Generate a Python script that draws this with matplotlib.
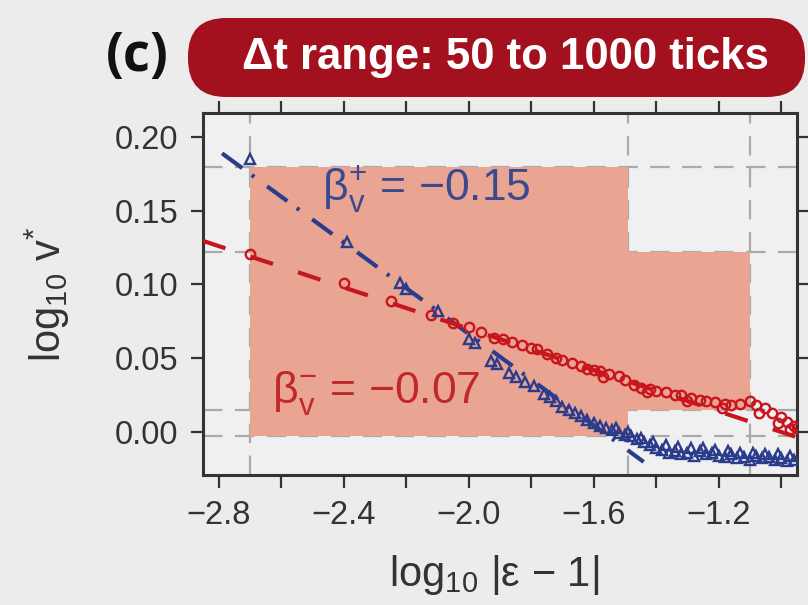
import matplotlib
matplotlib.use("Agg")
import matplotlib.pyplot as plt
from matplotlib.patches import FancyBboxPatch, Rectangle
from matplotlib.transforms import IdentityTransform

plt.rcParams['font.family'] = ['Liberation Sans', 'DejaVu Sans']
plt.rcParams['mathtext.fontset'] = 'custom'
plt.rcParams['mathtext.rm'] = 'Liberation Sans'
plt.rcParams['mathtext.it'] = 'Liberation Sans:italic'
plt.rcParams['lines.scale_dashes'] = False

# ---- data ----
blue_x = [-2.70, -2.39, -2.22, -2.20, -2.10, -2.00, -1.98, -1.93, -1.91, -1.87,
          -1.85, -1.82, -1.79, -1.76, -1.74, -1.72, -1.70, -1.68, -1.66, -1.64,
          -1.62, -1.60, -1.58, -1.56, -1.54, -1.52, -1.50, -1.48, -1.46, -1.44,
          -1.42, -1.40, -1.38, -1.36, -1.34, -1.32, -1.30, -1.28, -1.26, -1.24,
          -1.22, -1.20, -1.18, -1.16, -1.14, -1.12, -1.10, -1.08, -1.06, -1.04,
          -1.02, -1.00, -0.98, -0.96,
          -1.53, -1.49, -1.45, -1.41, -1.37, -1.33, -1.29, -1.25, -1.21, -1.17,
          -1.13, -1.09, -1.05, -1.01, -0.97]
blue_y = [0.185, 0.129, 0.101, 0.097, 0.082, 0.063, 0.060, 0.048, 0.046, 0.040,
          0.037, 0.034, 0.031, 0.026, 0.024, 0.021, 0.017, 0.015, 0.013, 0.011,
          0.008, 0.006, 0.004, 0.003, 0.001, -0.001, -0.002, -0.003, -0.005, -0.007,
          -0.009, -0.011, -0.012, -0.014, -0.013, -0.015, -0.014, -0.016, -0.013, -0.015,
          -0.014, -0.016, -0.017, -0.015, -0.018, -0.017, -0.019, -0.016, -0.018, -0.017,
          -0.019, -0.018, -0.020, -0.019,
          0.003, -0.000, -0.004, -0.007, -0.009, -0.010, -0.011, -0.011, -0.012, -0.013,
          -0.014, -0.014, -0.015, -0.015, -0.016]

red_x = [-2.70, -2.40, -2.25, -2.12, -2.05, -2.00, -1.96, -1.92, -1.89, -1.86,
         -1.83, -1.80, -1.78, -1.75, -1.72, -1.70, -1.67, -1.64, -1.62, -1.60,
         -1.58, -1.55, -1.52, -1.50, -1.47, -1.45, -1.42, -1.40, -1.37, -1.34,
         -1.32, -1.29, -1.26, -1.24, -1.21, -1.18, -1.16, -1.13, -1.10, -1.08,
         -1.05, -1.03, -1.00, -0.98, -0.96, -0.95,
         -1.57, -1.43, -1.30, -1.19, -1.07, -1.01, -0.97]
red_y = [0.121, 0.101, 0.089, 0.079, 0.074, 0.071, 0.068, 0.064, 0.063, 0.061,
         0.059, 0.057, 0.056, 0.053, 0.050, 0.049, 0.047, 0.045, 0.043, 0.042,
         0.041, 0.039, 0.038, 0.035, 0.032, 0.030, 0.029, 0.028, 0.027, 0.025,
         0.025, 0.023, 0.022, 0.021, 0.020, 0.019, 0.018, 0.019, 0.021, 0.018,
         0.016, 0.013, 0.010, 0.007, 0.004, 0.003,
         0.037, 0.027, 0.021, 0.016, 0.013, 0.006, 0.002]

# fitted power-law lines (slope, intercept, x-range)
blue_fit = (-0.155, -0.2435, -2.79, -1.44)
red_fit = (-0.07, -0.07, -2.851, -0.95)

# fit windows (x0, x1, y0, y1)
boxes = [(-2.70, -1.49, -0.003, 0.18), (-1.49, -1.10, 0.015, 0.122)]
vlines = [-2.70, -1.49, -1.10]
hlines = [0.18, 0.122, 0.015, -0.003]

xticks = [-2.8, -2.6, -2.4, -2.2, -2.0, -1.8, -1.6, -1.4, -1.2, -1.0]
xticklabels = ['\u22122.8', '', '\u22122.4', '', '\u22122.0', '', '\u22121.6', '', '\u22121.2', '']
yticks = [0.00, 0.05, 0.10, 0.15, 0.20]
yticklabels = ['0.00', '0.05', '0.10', '0.15', '0.20']

BLUE = '#2b3c8c'
RED = '#c8161e'
SHADE = '#e9a592'
GRID = '#aaaaaa'
MINUS = '\u2212'

fig = plt.figure(figsize=(8.08, 6.05), dpi=100, facecolor='#ececec')
ax = fig.add_axes([203/808, 1-475/605, (797-203)/808, (475-113)/605])
ax.set_facecolor('#f0f0f0')
ax.set_xlim(-2.851, -0.949)
ax.set_ylim(-0.0292, 0.2163)

for v in vlines:
    ax.axvline(v, color=GRID, lw=1.6, dashes=(14, 9), zorder=1)
for h in hlines:
    ax.axhline(h, color=GRID, lw=1.6, dashes=(14, 9), zorder=1)
for (x0, x1, y0, y1) in boxes:
    ax.add_patch(Rectangle((x0, y0), x1 - x0, y1 - y0, facecolor=SHADE,
                           edgecolor='none', zorder=2))

# fit lines
bs, bi, bx0, bx1 = blue_fit
ax.plot([bx0, bx1], [bs*bx0 + bi, bs*bx1 + bi], color=BLUE, lw=3.0,
        dashes=(18, 8.5, 2.2, 11.5), dash_capstyle='butt', zorder=4)
rs, ri, rx0, rx1 = red_fit
ax.plot([rx0, rx1], [rs*rx0 + ri, rs*rx1 + ri], color=RED, lw=3.0,
        dashes=(17, 19), dash_capstyle='butt', zorder=4)

ax.plot(red_x, red_y, linestyle='none', marker='o', ms=6.8, mfc='none',
        mec=RED, mew=1.7, zorder=5)
ax.plot(blue_x, blue_y, linestyle='none', marker='^', ms=6.8, mfc='none',
        mec=BLUE, mew=1.7, zorder=5)

ax.text(-2.47, 0.1654, r'$\mathregular{\beta_{v}^{+}}$ = ' + MINUS + '0.15',
        color='#3b4a8e', fontsize=32, va='center', ha='left', zorder=6)
ax.text(-2.63, 0.0264, r'$\mathregular{\beta_{v}^{-}}$ = ' + MINUS + '0.07',
        color='#c0282c', fontsize=32, va='center', ha='left', zorder=6)

ax.set_xticks(xticks)
ax.set_xticklabels(xticklabels)
ax.set_yticks(yticks)
ax.set_yticklabels(yticklabels)
ax.tick_params(axis='both', which='major', direction='out', length=9, width=1.6,
               colors='#333333', labelsize=23.5, labelcolor='#333333', pad=9)
ax.tick_params(top=True, right=True, labeltop=False, labelright=False)
for s in ax.spines.values():
    s.set_color('#333333')
    s.set_linewidth(2.2)

ax.set_xlabel(r'$\mathregular{log_{10}}$ |' + '\u03b5 ' + MINUS + ' 1|',
              fontsize=30, color='#333333')
ax.xaxis.set_label_coords(0.49, -0.215)
ax.set_ylabel(r'$\mathregular{log_{10}\ v^{*}}$', fontsize=30, color='#333333')
ax.yaxis.set_label_coords(-0.22, 0.5)

# header banner
banner = FancyBboxPatch((188 + 38, 605 - 97 + 38), 805 - 188 - 76, 79 - 76,
                        boxstyle='round,pad=38,rounding_size=38',
                        transform=IdentityTransform(), facecolor='#a3111f',
                        edgecolor='none')
fig.patches.append(banner)
fig.text(505/808, 1 - 58/605, '\u0394t range: 50 to 1000 ticks', color='white',
         fontsize=31.5, fontweight='bold', ha='center', va='center')
fig.text(137/808, 1 - 57/605, '(c)', color='#111111', fontsize=38,
         fontweight='bold', family='Open Sans', ha='center', va='center')

fig.savefig('out.png', dpi=100, facecolor=fig.get_facecolor())
